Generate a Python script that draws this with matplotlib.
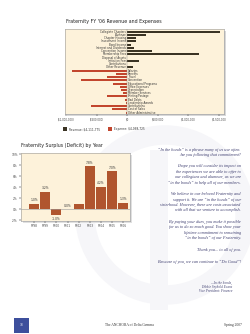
import matplotlib.pyplot as plt
import matplotlib.patches as mpatches

W, H = 250, 334

# revenue / expense rows (top chart)
rev_labels = ["Collegiate Chapters", "Alumnae", "Chapter Housing", "Investment Income",
              "Bond Income", "Interest and Dividends", "Convention Income",
              "Membership Fees", "Disposal of Assets", "Initiation Fees",
              "Contributions", "Other Revenue"]
rev_values = [1520000, 306000, 148000, 137000, 55000, 115000, 404000,
              1175000, 0, 197000, 0, 87000]
exp_labels = ["Salaries", "Benefits", "Travel", "Convention", "Educational Programs",
              "Office Expenses", "Depreciation", "Member Services", "Printing/Postage",
              "Bad Debts", "Leadership Awards", "Contributions", "Cost of Sales",
              "Other Administrative"]
exp_values = [900000, 186000, 328000, 765000, 240000, 120000, 95000, 71000,
              330000, 45000, 27000, 595000, 250000, 22000]
xticks_top = [-1000000, -500000, 0, 500000, 1000000, 1500000]
xticklabels_top = ["($1,000,000)", "($500,000)", "$0", "$500,000", "$1,000,000", "$1,500,000"]
legend_texts = ["Revenue: $4,111,775", "Expense: $4,068,725"]

# surplus by year (bottom chart)
years = ["FY98", "FY99", "FY00", "FY01", "FY02", "FY03", "FY04", "FY05", "FY06"]
surplus = [1.0, 3.2, -1.1, 0.0, 1.0, 7.8, 4.1, 6.9, 1.2]
surplus_labels = ["1.0%", "3.2%", "-1.0%", "0.0%", "", "7.8%", "4.2%", "7.0%", "1.3%"]
yticks_bot = [-2, 0, 2, 4, 6, 8, 10]

REV_C = "#3b3424"
EXP_C = "#c2462e"
BAR_C = "#b0552e"
BG_C = "#fdf2da"
TXT_C = "#3c3c6e"
WM_C = "#f6f6f9"

fig = plt.figure(figsize=(W / 100, H / 100), dpi=100)
fig.patch.set_facecolor("white")


def box(x0, y0, x1, y1):
    return [x0 / W, 1 - y1 / H, (x1 - x0) / W, (y1 - y0) / H]


# faint watermark
bg = fig.add_axes([0, 0, 1, 1])
bg.set_xlim(0, W)
bg.set_ylim(H, 0)
bg.axis("off")
bg.add_patch(mpatches.Circle((165, 215), 80, fill=False, lw=14, ec=WM_C))
bg.add_patch(mpatches.Rectangle((150, 150), 18, 160, fc=WM_C, ec="none"))
# shadows behind charts
bg.add_patch(mpatches.Rectangle((67, 31), 159, 85, fc="#d8d8d8", ec="none"))
bg.add_patch(mpatches.Rectangle((22.5, 154.5), 109, 68, fc="#e0e0e0", ec="none"))

# ---- top chart
fig.text(66 / W, 1 - 21.3 / H, "Fraternity FY '06 Revenue and Expenses",
         fontsize=3.4, color="#222222", va="center", ha="left")
ax = fig.add_axes(box(65.3, 29.3, 224.3, 114.3))
ax.set_facecolor(BG_C)
n_rev = len(rev_values)
rev_y = list(range(n_rev))
exp_y = [n_rev + i for i in range(len(exp_values))]
ax.barh(rev_y, rev_values, height=0.62, color=REV_C)
ax.barh(exp_y, [-v for v in exp_values], height=0.62, color=EXP_C)
for y, lab in zip(rev_y, rev_labels):
    ax.text(-15000, y, lab, fontsize=1.9, ha="right", va="center", color="#333333")
for y, lab in zip(exp_y, exp_labels):
    ax.text(15000, y, lab, fontsize=1.9, ha="left", va="center", color="#333333")
ax.axvline(0, color="#888888", lw=0.3)
ax.set_xlim(-1016000, 1590000)
ax.set_ylim(n_rev + len(exp_values) - 0.5, -0.74)
ax.set_yticks([])
ax.set_xticks(xticks_top)
ax.set_xticklabels(xticklabels_top, fontsize=1.9, color="#444444")
ax.tick_params(axis="x", length=1.2, width=0.3, pad=1)
for s in ax.spines.values():
    s.set_color("#999999")
    s.set_linewidth(0.4)

# legend
bg.add_patch(mpatches.Rectangle((62.7, 127), 4, 4, fc=REV_C, ec="none"))
bg.add_patch(mpatches.Rectangle((107.7, 127), 4, 4, fc=EXP_C, ec="none"))
bg.text(69, 129.2, legend_texts[0], fontsize=2.1, va="center", color="#333333")
bg.text(114, 129.2, legend_texts[1], fontsize=2.1, va="center", color="#333333")

# ---- bottom chart
fig.text(21 / W, 1 - 145.7 / H, "Fraternity Surplus (Deficit) by Year",
         fontsize=3.4, color="#222222", va="center", ha="left")
ax2 = fig.add_axes(box(20.7, 152.7, 129.5, 220.7))
ax2.set_facecolor(BG_C)
xs = list(range(len(years)))
ax2.bar(xs, surplus, width=0.88, color=BAR_C)
for x, v, lab in zip(xs, surplus, surplus_labels):
    if not lab:
        continue
    if v < 0:
        ax2.text(x, v - 0.25, lab, fontsize=2.2, ha="center", va="top", color="#333333")
    else:
        ax2.text(x, v + 0.3, lab, fontsize=2.2, ha="center", va="bottom", color="#333333")
ax2.axhline(0, color="#999999", lw=0.4)
ax2.set_xlim(-1.2, 8.55)
ax2.set_ylim(-2.07, 10.3)
ax2.set_xticks(xs)
ax2.set_xticklabels(years, fontsize=2.1, color="#444444")
ax2.set_yticks(yticks_bot)
ax2.set_yticklabels([f"{t}%" for t in yticks_bot], fontsize=2.1, color="#444444")
ax2.tick_params(length=1.2, width=0.3, pad=1)
for s in ax2.spines.values():
    s.set_color("#999999")
    s.set_linewidth(0.4)

# ---- text column
lines = [
    (150.0, "\u201cIn the bonds\u201d is a phrase many of us use often."),
    (155.4, "Are you following that commitment?"),
    (166.3, "I hope you will consider its impact on"),
    (171.7, "the experiences we are able to offer to"),
    (177.1, "our collegians and alumnae, as we are"),
    (182.6, "\u201cin the bonds\u201d to help all of our members."),
    (194.2, "We believe in our beloved Fraternity and"),
    (199.5, "support it. We are \u201cin the bonds\u201d of our"),
    (204.9, "sisterhood. However, there are costs associated"),
    (210.4, "with all that we venture to accomplish."),
    (222.0, "By paying your dues, you make it possible"),
    (227.4, "for us to do so much good. You show your"),
    (232.8, "lifetime commitment to remaining"),
    (238.2, "\u201cin the bonds\u201d of our Fraternity."),
    (250.0, "Thank you... to all of you."),
    (261.5, "Because of you, we can continue to \u201cDo Good\u201d!"),
]
for y, t in lines:
    bg.text(240.7, y, t, fontsize=3.1, family="Liberation Serif", style="italic",
            ha="right", va="center", color=TXT_C)
for y, t in [(282.7, "\u2014 In the bonds,"), (287.0, "Debbie Seybold Evans"),
             (291.3, "Vice President: Finance")]:
    bg.text(232.5, y, t, fontsize=2.4, family="Liberation Serif", style="italic",
            ha="right", va="center", color=TXT_C)

# ---- footer
bg.add_patch(mpatches.Rectangle((14, 318), 15, 15, fc="#3d4f9c", ec="none"))
bg.text(21.5, 325.5, "38", fontsize=2.6, color="white", ha="center", va="center",
        family="Liberation Serif")
bg.text(129, 325, "The ANCHORA of Delta Gamma", fontsize=2.6, family="Liberation Serif",
        ha="center", va="center", color="#333333")
bg.text(242, 325, "Spring 2007", fontsize=2.6, family="Liberation Serif",
        ha="right", va="center", color="#333333")

fig.savefig("out.png", dpi=100, facecolor="white")
